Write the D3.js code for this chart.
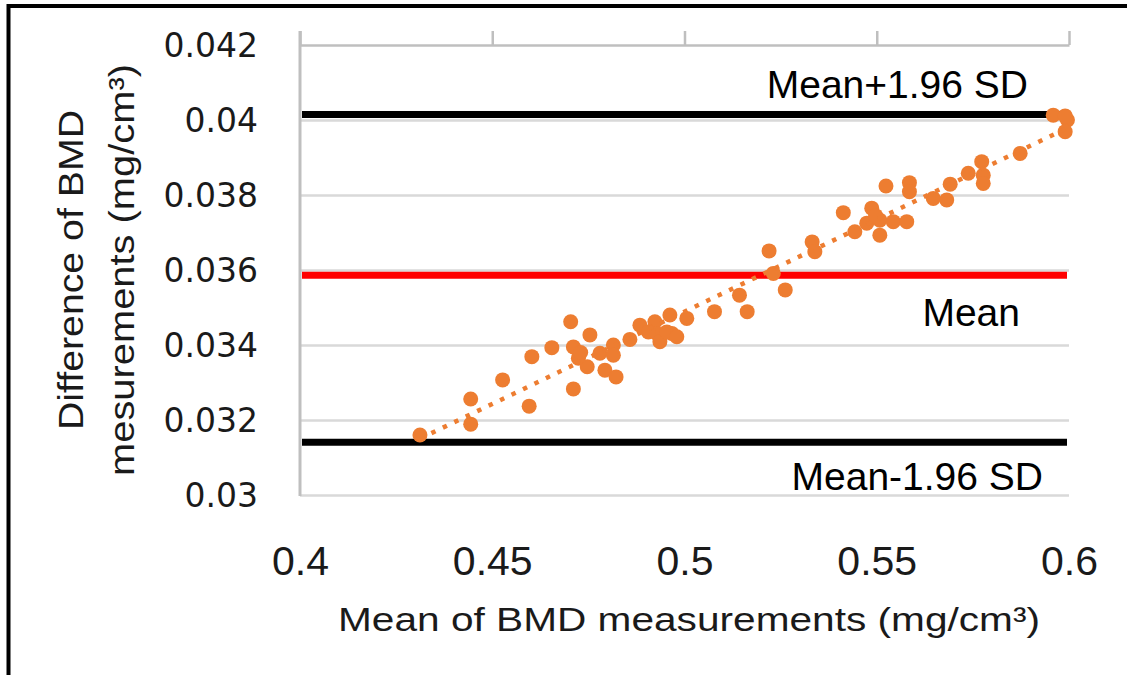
<!DOCTYPE html>
<html>
<head>
<meta charset="utf-8">
<script src="https://cdn.jsdelivr.net/npm/d3@7"></script>
<style>
  html, body { margin: 0; padding: 0; background: #fff; }
  svg { display: block; }
</style>
</head>
<body>
<svg id="chart" width="1127" height="675"></svg>
<script>
// Bland–Altman style agreement plot of BMD measurements

// mean of the two measurements (x)
const meanBmd = [
  0.4312, 0.4444, 0.4444, 0.4527, 0.4596, 0.4603, 0.4655, 0.4704, 0.4711, 0.4711,
  0.4724, 0.4747, 0.4754, 0.4780, 0.4793, 0.4815, 0.4815, 0.4822, 0.4858, 0.4884,
  0.4923, 0.4928, 0.4936, 0.4962, 0.4967, 0.5006, 0.5078, 0.5143, 0.5163, 0.5262,
  0.5231, 0.5220, 0.5332, 0.5339, 0.5413, 0.5443, 0.5487, 0.5474, 0.5508, 0.5508,
  0.5543, 0.5578, 0.5524, 0.5585, 0.5585, 0.5647, 0.5682, 0.5691, 0.5738, 0.5777,
  0.5777, 0.5773, 0.5873, 0.5959, 0.5996, 0.5990, 0.5990, 0.4906, 0.4954, 0.4980,
  0.4730, 0.5497
];
// difference between the two measurements (y)
const diffBmd = [
  0.03160, 0.03256, 0.03189, 0.03307, 0.03237, 0.03369, 0.03393, 0.03462, 0.03395, 0.03283,
  0.03365, 0.03342, 0.03427, 0.03378, 0.03333, 0.03400, 0.03373, 0.03315, 0.03415, 0.03453,
  0.03462, 0.03431, 0.03409, 0.03480, 0.03431, 0.03471, 0.03489, 0.03533, 0.03489, 0.03547,
  0.03591, 0.03651, 0.03675, 0.03649, 0.03753, 0.03702, 0.03765, 0.03725, 0.03733, 0.03693,
  0.03729, 0.03729, 0.03824, 0.03833, 0.03809, 0.03791, 0.03787, 0.03829, 0.03858, 0.03853,
  0.03831, 0.03889, 0.03911, 0.04013, 0.04000, 0.03969, 0.04011, 0.03435, 0.03435, 0.03422,
  0.03380, 0.03745
];

// agreement limits
const limitLabels = ["Mean+1.96 SD", "Mean", "Mean-1.96 SD"];
const limitValues = [0.04015, 0.03586, 0.03141];

// axis ticks
const xTicks = [0.4, 0.45, 0.5, 0.55, 0.6];
const yTicks = [0.03, 0.032, 0.034, 0.036, 0.038, 0.04, 0.042];

const xTitle = "Mean of BMD measurements (mg/cm³)";
const yTitleLines = ["Difference of BMD", "mesurements (mg/cm³)"];

const svg = d3.select("#chart");
const plot = { left: 300, right: 1069, top: 45, bottom: 495 };

const x = d3.scaleLinear().domain([0.4, 0.6]).range([plot.left, plot.right]);
const y = d3.scaleLinear().domain([0.03, 0.042]).range([plot.bottom, plot.top]);
const fmt = d3.format("~g");

// outer frame (top and left edges)
svg.append("line").attr("x1", 7).attr("x2", 1127).attr("y1", 6).attr("y2", 6)
  .attr("stroke", "#000").attr("stroke-width", 4);
svg.append("line").attr("x1", 8.5).attr("x2", 8.5).attr("y1", 4).attr("y2", 675)
  .attr("stroke", "#000").attr("stroke-width", 4);

// horizontal gridlines
const grid = svg.append("g")
  .attr("transform", `translate(${plot.left},0)`)
  .call(d3.axisLeft(y).tickValues(yTicks.filter(v => v < 0.042)).tickSize(-(plot.right - plot.left)).tickFormat(""));
grid.select(".domain").remove();
grid.selectAll(".tick line").attr("stroke", "#d9d9d9").attr("stroke-width", 2.5);

// horizontal axis drawn along the top edge, ticks pointing outward
const topAxis = svg.append("g")
  .attr("transform", `translate(0,${plot.top})`)
  .call(d3.axisTop(x).tickValues(xTicks).tickSize(14).tickSizeOuter(0).tickFormat(""));
topAxis.select(".domain").attr("stroke", "#bfbfbf").attr("stroke-width", 2.5);
topAxis.selectAll(".tick line").attr("stroke", "#bfbfbf").attr("stroke-width", 2.5);

// vertical axis line
svg.append("line")
  .attr("x1", x(0.4)).attr("x2", x(0.4))
  .attr("y1", plot.top - 14).attr("y2", y(0.03) + 1)
  .attr("stroke", "#bfbfbf").attr("stroke-width", 3);

// x tick labels
const xLab = svg.append("g")
  .attr("transform", `translate(0,560)`)
  .call(d3.axisBottom(x).tickValues(xTicks).tickSize(0).tickFormat(fmt));
xLab.select(".domain").remove();
xLab.selectAll("text")
  .attr("y", 0).attr("dy", "0.36em")
  .attr("font-family", "'Liberation Sans', Arial, sans-serif")
  .attr("font-size", 41).attr("fill", "#1a1a1a");

// y tick labels
const yLab = svg.append("g")
  .attr("transform", `translate(258,0)`)
  .call(d3.axisLeft(y).tickValues(yTicks).tickSize(0).tickFormat(fmt));
yLab.select(".domain").remove();
yLab.selectAll("text")
  .attr("x", 0).attr("dy", "0.36em")
  .attr("font-family", "'DejaVu Sans', Verdana, sans-serif")
  .attr("font-size", 33).attr("fill", "#1a1a1a");

// agreement limit lines
const limitColors = ["#000000", "#ff0000", "#000000"];
svg.append("g").selectAll("line")
  .data(limitValues)
  .join("line")
  .attr("x1", x(0.4) + 2).attr("x2", x(0.6) - 2)
  .attr("y1", d => y(d)).attr("y2", d => y(d))
  .attr("stroke", (d, i) => limitColors[i])
  .attr("stroke-width", 7);

// scatter points
const pts = meanBmd.map((m, i) => ({ m, d: diffBmd[i] }));
svg.append("g").selectAll("circle")
  .data(pts)
  .join("circle")
  .attr("cx", p => x(p.m))
  .attr("cy", p => y(p.d))
  .attr("r", 7.5)
  .attr("fill", "#ed7d31");

// linear trendline (least squares) over the data range
const mx = d3.mean(meanBmd), my = d3.mean(diffBmd);
const sxy = d3.sum(pts, p => (p.m - mx) * (p.d - my));
const sxx = d3.sum(pts, p => (p.m - mx) * (p.m - mx));
const slope = sxy / sxx, intercept = my - slope * mx;
const [xMin, xMax] = d3.extent(meanBmd);
svg.append("line")
  .attr("x1", x(xMin)).attr("y1", y(intercept + slope * xMin))
  .attr("x2", x(xMax)).attr("y2", y(intercept + slope * xMax))
  .attr("stroke", "#ed7d31")
  .attr("stroke-width", 4.5)
  .attr("stroke-dasharray", "4.5 8.2");

// limit annotations
const annot = [
  { text: limitLabels[0], xr: 1028, dy: -16 },
  { text: limitLabels[1], xr: 1020, dy: 51 },
  { text: limitLabels[2], xr: 1043, dy: 48 }
];
svg.append("g").selectAll("text")
  .data(annot)
  .join("text")
  .attr("x", a => a.xr)
  .attr("y", (a, i) => y(limitValues[i]) + a.dy)
  .attr("text-anchor", "end")
  .attr("font-family", "'Liberation Sans', Arial, sans-serif")
  .attr("font-size", 39)
  .attr("fill", "#000")
  .text(a => a.text);

// axis titles
svg.append("text")
  .attr("x", 689).attr("y", 631)
  .attr("text-anchor", "middle")
  .attr("font-family", "'Liberation Sans', Arial, sans-serif")
  .attr("font-size", 34)
  .attr("textLength", 702).attr("lengthAdjust", "spacingAndGlyphs")
  .attr("fill", "#1a1a1a")
  .text(xTitle);

const yTitle = svg.append("g");
[{ t: yTitleLines[0], bx: 83, len: 320 }, { t: yTitleLines[1], bx: 133.5, len: 412 }].forEach(l => {
  yTitle.append("text")
    .attr("transform", `translate(${l.bx},270) rotate(-90)`)
    .attr("text-anchor", "middle")
    .attr("font-family", "'Liberation Sans', Arial, sans-serif")
    .attr("font-size", 35)
    .attr("textLength", l.len).attr("lengthAdjust", "spacingAndGlyphs")
    .attr("fill", "#1a1a1a")
    .text(l.t);
});
</script>
</body>
</html>
